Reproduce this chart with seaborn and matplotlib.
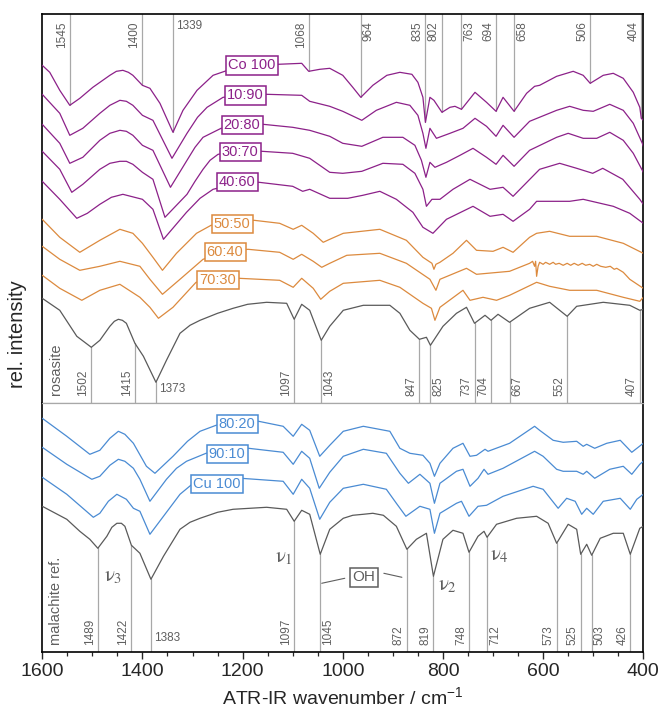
import numpy as np
import pandas as pd
import matplotlib
matplotlib.use("Agg")
import matplotlib.pyplot as plt
import seaborn as sns

# === SPECTRA (wavenumber / cm-1, relative intensity) ===
co100_wn = [1600, 1585, 1565, 1545, 1525, 1499, 1465, 1452, 1439, 1428, 1419, 1400, 1385, 1365, 1339, 1319, 1291, 1259, 1230, 1185,
            1130, 1082, 1068, 1046, 1026, 1000, 980, 964, 940, 912, 886, 862, 850, 840, 835, 826, 818, 802, 786, 776,
            763, 736, 713, 694, 680, 658, 633, 617, 607, 573, 540, 520, 506, 480, 460, 440, 420, 407, 404, 400]
co100_int = [0, -7, -25, -40, -33, -22, -10, -6, -5, -7, -10, -20, -23, -38, -67, -45, -25, -10, -5, -1,
             1, 2, -6, -4, -3, -10, -22, -32, -20, -10, -7, -9, -17, -32, -57, -32, -35, -47, -42, -41,
             -44, -27, -37, -46, -32, -46, -28, -21, -20, -11, -6, -10, -18, -10, -8, -13, -27, -42, -53, -55]

s10_90_wn = [1600, 1565, 1545, 1519, 1485, 1465, 1445, 1432, 1419, 1400, 1379, 1341, 1311, 1290, 1271, 1239, 1195, 1151, 1082, 1066,
             1026, 1000, 962, 933, 893, 866, 850, 840, 834, 826, 813, 786, 760, 736, 713, 694, 680, 658, 627, 573,
             547, 520, 500, 467, 440, 420, 402, 400]
s10_90_int = [0, -19, -41, -34, -19, -11, -6, -7, -11, -21, -26, -64, -39, -23, -13, -3, -1, 0, -1, -7,
              -12, -17, -26, -16, -8, -11, -21, -39, -54, -34, -44, -39, -34, -24, -32, -42, -31, -43, -27, -16,
              -12, -16, -17, -10, -16, -29, -49, -52]

s20_80_wn = [1600, 1565, 1545, 1519, 1485, 1465, 1445, 1432, 1419, 1400, 1379, 1344, 1311, 1295, 1279, 1243, 1201, 1159, 1100, 1066,
             1026, 1000, 962, 920, 880, 856, 843, 834, 826, 816, 793, 766, 740, 713, 694, 680, 658, 627, 573, 550,
             520, 493, 467, 440, 420, 402, 400]
s20_80_int = [0, -19, -39, -33, -16, -9, -6, -7, -11, -21, -26, -63, -36, -23, -13, -4, -1, 0, -3, -6,
              -12, -19, -22, -13, -13, -21, -36, -53, -38, -43, -38, -31, -24, -33, -40, -31, -42, -26, -13, -9,
              -14, -14, -8, -16, -29, -46, -48]

s30_70_wn = [1600, 1565, 1541, 1519, 1485, 1465, 1445, 1432, 1419, 1400, 1379, 1355, 1311, 1295, 1279, 1265, 1249, 1205, 1161, 1100,
             1066, 1026, 1000, 962, 920, 880, 856, 840, 833, 822, 806, 780, 746, 706, 680, 660, 607, 567, 533, 501,
             481, 441, 407, 400]
s30_70_int = [0, -18, -41, -33, -18, -12, -10, -10, -13, -21, -28, -66, -43, -30, -18, -9, -3, 0, 0, -2,
              -7, -21, -22, -20, -12, -13, -22, -38, -55, -48, -48, -38, -28, -38, -36, -45, -18, -12, -17, -22,
              -17, -28, -48, -53]

s40_60_wn = [1600, 1565, 1531, 1510, 1485, 1462, 1439, 1400, 1379, 1358, 1312, 1285, 1259, 1211, 1167, 1100, 1080, 1066, 1026, 990,
             960, 926, 893, 860, 840, 820, 793, 740, 706, 680, 660, 627, 613, 547, 520, 460, 427, 400]
s40_60_int = [0, -18, -37, -32, -23, -16, -13, -18, -28, -58, -31, -17, -8, -2, -1, -5, -10, -8, -17, -17,
              -14, -10, -18, -31, -46, -52, -38, -25, -35, -33, -40, -28, -20, -20, -18, -25, -32, -42]

s50_50_wn = [1600, 1565, 1525, 1485, 1445, 1419, 1400, 1379, 1360, 1332, 1292, 1263, 1221, 1177, 1126, 1099, 1082, 1059, 1039, 1026,
             999, 926, 873, 840, 822, 818, 814, 806, 780, 753, 733, 700, 680, 660, 627, 613, 587, 547, 493, 440, 400]
s50_50_int = [0, -18, -33, -21, -10, -14, -24, -38, -51, -34, -14, -6, -3, -1, -4, -10, -6, -14, -23, -20,
              -14, -10, -21, -38, -44, -50, -45, -43, -34, -21, -31, -32, -28, -33, -18, -14, -12, -17, -17, -24, -34]

s60_40_wn = [1600, 1565, 1525, 1485, 1445, 1405, 1385, 1360, 1325, 1279, 1235, 1189, 1126, 1099, 1082, 1059, 1042, 1026, 992, 926,
             873, 826, 814, 806, 753, 733, 667, 627, 621, 617, 615, 613, 610, 607, 600, 595, 587, 580, 575, 568,
             560, 552, 545, 538, 530, 522, 515, 507, 500, 493, 485, 475, 466, 458, 453, 440, 427, 400]
s60_40_int = [0, -13, -24, -20, -15, -20, -33, -48, -33, -13, -5, -3, -6, -13, -8, -15, -21, -17, -9, -7,
              -17, -33, -44, -33, -22, -28, -25, -17, -15, -20, -15, -30, -20, -16, -18, -16, -18, -16, -18, -17,
              -19, -17, -19, -17, -19, -17, -19, -18, -20, -18, -20, -21, -20, -23, -22, -26, -33, -42]

s70_30_wn = [1600, 1565, 1521, 1485, 1445, 1405, 1385, 1368, 1339, 1293, 1249, 1207, 1126, 1099, 1082, 1059, 1044, 1026, 999, 926,
             886, 840, 823, 816, 806, 760, 746, 720, 693, 667, 613, 587, 547, 493, 440, 407, 400]
s70_30_int = [0, -13, -25, -15, -9, -22, -32, -43, -32, -7, -4, -3, -5, -12, -3, -13, -24, -16, -8, -5,
              -12, -28, -33, -45, -32, -15, -25, -22, -25, -20, -7, -11, -15, -15, -22, -26, -22]

rosasite_wn = [1600, 1565, 1531, 1502, 1485, 1465, 1456, 1448, 1440, 1432, 1415, 1398, 1373, 1352, 1325, 1305, 1285, 1250, 1219, 1190,
               1152, 1112, 1097, 1082, 1066, 1043, 1026, 999, 959, 906, 886, 866, 847, 833, 825, 800, 773, 753, 737, 716,
               704, 690, 667, 627, 587, 552, 533, 480, 427, 407, 400]
rosasite_int = [0, -12, -38, -49, -42, -28, -23, -21, -22, -25, -45, -58, -84, -62, -35, -27, -22, -15, -10, -6,
                -4, -5, -21, -6, -12, -42, -28, -12, -7, -7, -15, -32, -41, -39, -47, -28, -15, -9, -25, -17,
                -22, -16, -24, -10, -4, -18, -8, -4, -7, -12, -11]

s80_20_wn = [1600, 1551, 1505, 1485, 1465, 1448, 1435, 1418, 1392, 1375, 1339, 1310, 1285, 1253, 1211, 1168, 1119, 1099, 1082, 1066,
             1046, 1026, 999, 959, 906, 886, 866, 840, 826, 817, 806, 780, 760, 746, 733, 716, 710, 667, 617, 607,
             580, 560, 533, 520, 513, 497, 473, 446, 423, 400]
s80_20_int = [0, -18, -36, -32, -20, -13, -16, -25, -48, -55, -38, -23, -13, -7, -4, -3, -8, -18, -6, -12,
              -38, -27, -13, -8, -13, -30, -35, -37, -45, -58, -45, -30, -25, -38, -37, -31, -33, -25, -8, -12,
              -22, -24, -23, -28, -26, -30, -25, -22, -34, -25]

s90_10_wn = [1600, 1551, 1501, 1485, 1465, 1448, 1435, 1418, 1405, 1385, 1352, 1332, 1312, 1273, 1231, 1188, 1119, 1099, 1082, 1066,
             1047, 1026, 999, 959, 913, 886, 869, 846, 826, 817, 806, 773, 760, 746, 730, 718, 710, 680, 617, 600,
             573, 560, 533, 520, 513, 497, 467, 440, 423, 407, 400]
s90_10_int = [0, -17, -32, -29, -18, -12, -14, -21, -32, -54, -32, -21, -14, -6, -2, -1, -5, -17, -4, -11,
              -41, -25, -9, -2, -6, -26, -36, -27, -36, -56, -36, -24, -22, -39, -31, -22, -27, -21, -4, -9,
              -22, -24, -24, -27, -24, -31, -22, -19, -27, -17, -14]

cu100_wn = [1600, 1551, 1498, 1485, 1468, 1451, 1432, 1418, 1405, 1385, 1358, 1325, 1301, 1251, 1203, 1119, 1099, 1082, 1066, 1046,
            1026, 999, 959, 913, 893, 874, 846, 826, 817, 806, 773, 763, 748, 730, 713, 680, 620, 600, 570, 553,
            536, 523, 513, 500, 480, 446, 426, 413, 400]
cu100_int = [0, -17, -40, -36, -24, -17, -22, -31, -34, -57, -39, -17, -7, -2, -1, -4, -17, -2, -11, -42,
             -25, -11, -7, -12, -26, -39, -29, -32, -56, -36, -26, -24, -39, -29, -28, -19, -9, -12, -31, -21,
             -24, -37, -31, -37, -24, -21, -32, -22, -17]

malachite_wn = [1600, 1551, 1525, 1505, 1489, 1471, 1461, 1451, 1442, 1435, 1422, 1405, 1383, 1358, 1325, 1305, 1285, 1250, 1219, 1152,
                1112, 1097, 1082, 1066, 1045, 1026, 999, 980, 959, 940, 919, 893, 872, 853, 833, 819, 800, 780, 760, 748,
                730, 718, 712, 693, 653, 613, 590, 573, 550, 533, 525, 513, 503, 486, 460, 440, 426, 407, 400]
malachite_int = [0, -13, -25, -33, -42, -30, -21, -17, -17, -20, -39, -47, -73, -50, -23, -16, -12, -6, -3, -1,
                 -3, -15, -4, -8, -48, -23, -12, -9, -8, -7, -9, -20, -43, -33, -27, -70, -33, -24, -27, -46,
                 -30, -25, -31, -18, -12, -10, -17, -37, -18, -23, -48, -38, -49, -32, -27, -27, -48, -22, -20]

# band positions marked in the figure
co_peaks = [1545, 1400, 1339, 1068, 964, 835, 802, 763, 694, 658, 506, 404]
rosasite_peaks = [1502, 1415, 1373, 1097, 1043, 847, 825, 737, 704, 667, 552, 407]
malachite_peaks = [1489, 1422, 1383, 1097, 1045, 872, 819, 748, 712, 573, 525, 503, 426]
# labels written horizontally, and labels set to the right of their line
flat_labels = [1339, 1373, 1383]
right_labels = [964, 763, 658, 1043, 825, 667, 1045, 712, 503]

# === STYLE ===
PURPLE = "#8c2189"
ORANGE = "#dc8a3e"
BLUE = "#4a8bd3"
GRAY = "#5a5a5a"
LINEGRAY = "#a8a8a8"
TXTGRAY = "#5f5f5f"

sns.set_style("ticks")
plt.rcParams["font.family"] = ["Liberation Sans", "DejaVu Sans"]
plt.rcParams["mathtext.fontset"] = "custom"
plt.rcParams["mathtext.rm"] = "Liberation Sans"
plt.rcParams["mathtext.it"] = "Liberation Sans:italic"

# (name, wn, int, offset, color, label-x, label-dy)
top_set = [
    ("Co 100", co100_wn, co100_int, 338, PURPLE, 1181, 0),
    ("10:90", s10_90_wn, s10_90_int, 309, PURPLE, 1195, -1),
    ("20:80", s20_80_wn, s20_80_int, 279, PURPLE, 1201, -1),
    ("30:70", s30_70_wn, s30_70_int, 252, PURPLE, 1205, -1),
    ("40:60", s40_60_wn, s40_60_int, 222, PURPLE, 1211, -1),
    ("50:50", s50_50_wn, s50_50_int, 184, ORANGE, 1221, -5),
    ("60:40", s60_40_wn, s60_40_int, 157, ORANGE, 1235, -6),
    ("70:30", s70_30_wn, s70_30_int, 128, ORANGE, 1249, -5),
    ("rosasite", rosasite_wn, rosasite_int, 105, GRAY, None, 0),
]
bot_set = [
    ("80:20", s80_20_wn, s80_20_int, 234, BLUE, 1211, -6),
    ("90:10", s90_10_wn, s90_10_int, 205, BLUE, 1231, -7),
    ("Cu 100", cu100_wn, cu100_int, 175, BLUE, 1251, -7),
    ("malachite ref.", malachite_wn, malachite_int, 146, GRAY, None, 0),
]

fig = plt.figure(figsize=(6.6, 7.16), dpi=100)
gs = fig.add_gridspec(2, 1, height_ratios=[389, 249], hspace=0,
                      left=0.064, right=0.9747, bottom=0.089, top=0.980)
ax_top = fig.add_subplot(gs[0])
ax_bot = fig.add_subplot(gs[1], sharex=ax_top)


def draw_set(ax, spectra):
    curves = {}
    for name, wn, inten, off, col, lx, ldy in spectra:
        df = pd.DataFrame({"wn": wn, "y": np.array(inten, dtype=float) + off})
        sns.lineplot(data=df, x="wn", y="y", ax=ax, color=col, lw=0.9,
                     estimator=None, sort=False, zorder=3)
        curves[name] = df
        if lx is not None:
            ax.text(lx, off + ldy, name, color=col, fontsize=10.5, ha="center", va="center", zorder=5,
                    bbox=dict(boxstyle="square,pad=0.15", fc="white", ec=col, lw=1.1))
    return curves


def curve_at(df, x):
    return np.interp(x, df["wn"].values[::-1], df["y"].values[::-1])


def mark_peaks(ax, peaks, df, from_top, ytxt):
    ylim = ax.get_ylim()[1]
    for p in peaks:
        yend = curve_at(df, p)
        ax.plot([p, p], [ylim if from_top else 0, yend], color=LINEGRAY, lw=0.9, zorder=1)
        va = "top" if from_top else "bottom"
        if p in flat_labels:
            ax.text(p - 7, ytxt + (-5 if from_top else 7), str(p), color=TXTGRAY, fontsize=8.5,
                    ha="left", va="center")
        elif p in right_labels:
            ax.text(p - 4, ytxt, str(p), color=TXTGRAY, fontsize=8.5, rotation=90, ha="left", va=va)
        else:
            ax.text(p + 4, ytxt, str(p), color=TXTGRAY, fontsize=8.5, rotation=90, ha="right", va=va)


top_curves = draw_set(ax_top, top_set)
bot_curves = draw_set(ax_bot, bot_set)

ax_top.set_xlim(1600, 400)
ax_top.set_ylim(0, 389)
ax_bot.set_ylim(0, 249)

mark_peaks(ax_top, co_peaks, top_curves["Co 100"], True, 382)
mark_peaks(ax_top, rosasite_peaks, top_curves["rosasite"], False, 7)
mark_peaks(ax_bot, malachite_peaks, bot_curves["malachite ref."], False, 7)

ax_top.text(1573, 8, "rosasite", color=TXTGRAY, fontsize=10.5, rotation=90, ha="center", va="bottom")
ax_bot.text(1573, 7, "malachite ref.", color=TXTGRAY, fontsize=10.5, rotation=90, ha="center", va="bottom")

# --- band assignments
for lab, x, y in [(r"$\mathrm{\nu}_1$", 1118, 95), (r"$\mathrm{\nu}_3$", 1459, 76),
                  (r"$\mathrm{\nu}_2$", 792, 67), (r"$\mathrm{\nu}_4$", 687, 97)]:
    ax_bot.text(x, y, lab, color=TXTGRAY, fontsize=15, ha="center", va="center", math_fontfamily="stix")
ax_bot.text(958, 75, "OH", color=TXTGRAY, fontsize=11, ha="center", va="center",
            bbox=dict(boxstyle="square,pad=0.15", fc="white", ec=TXTGRAY, lw=1.1))
ax_bot.plot([1042, 996], [69, 74], color=TXTGRAY, lw=0.8)
ax_bot.plot([918, 882], [79, 75], color=TXTGRAY, lw=0.8)

# --- axes cosmetics
for ax in (ax_top, ax_bot):
    ax.set_xlabel("")
    ax.set_ylabel("")
    ax.set_yticks([])
    for s in ax.spines.values():
        s.set_color("black")
        s.set_linewidth(1.2)
ax_top.spines["bottom"].set_color(LINEGRAY)
ax_top.spines["bottom"].set_linewidth(0.9)
ax_bot.spines["top"].set_color(LINEGRAY)
ax_bot.spines["top"].set_linewidth(0.9)
ax_top.tick_params(axis="x", which="both", bottom=False, labelbottom=False)

ax_bot.set_xticks([1600, 1400, 1200, 1000, 800, 600, 400])
ax_bot.set_xticks(np.arange(400, 1601, 50), minor=True)
ax_bot.tick_params(axis="x", which="major", direction="out", length=5, width=1.0, labelsize=14, pad=3)
ax_bot.tick_params(axis="x", which="minor", direction="out", length=3, width=0.9)
ax_bot.set_xlabel("ATR-IR wavenumber / cm$^{-1}$", fontsize=14, labelpad=4)
fig.text(0.027, 0.533, "rel. intensity", rotation=90, fontsize=14.5, ha="center", va="center")

fig.savefig("out.png", dpi=100)
